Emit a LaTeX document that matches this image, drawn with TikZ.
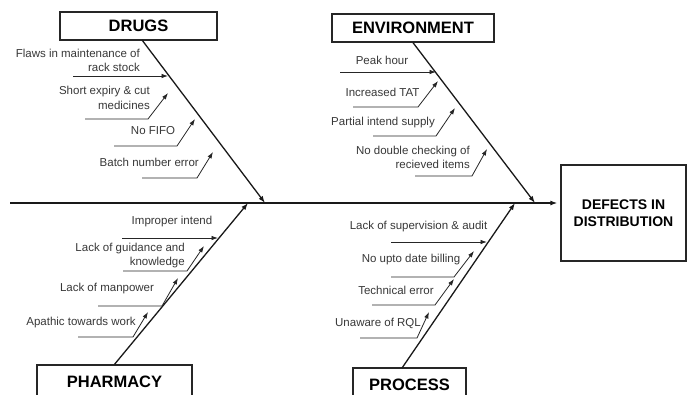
\documentclass[tikz,border=0pt]{standalone}
\usepackage{fontspec}
\setmainfont{Liberation Sans}
\usetikzlibrary{arrows.meta}
\begin{document}
\begin{tikzpicture}[x=1pt,y=-1pt,
  hdr/.style={draw=black!85, line width=1.3pt, inner sep=0pt, font=\fontsize{16.5}{19}\selectfont\bfseries},
  lbl/.style={font=\fontsize{11.5}{14.5}\selectfont, text=black!78, inner sep=0pt},
  cause/.style={draw=black!85, line width=0.8pt, -{Latex[length=6.5pt,width=4.5pt]}},
  spine/.style={draw=black!90, line width=1.3pt, -{Latex[length=7pt,width=5pt]}}]
\useasboundingbox (0,0) rectangle (687,394);
\clip (0,0) rectangle (687,394);
\fill[white] (0,0) rectangle (687,394);

% header boxes
\node[hdr, minimum width=157pt, minimum height=28pt] (drugs) at (138.5,26) {DRUGS};
\node[hdr, minimum width=162pt, minimum height=28pt] (env) at (413,28) {ENVIRONMENT};
\node[hdr, minimum width=155pt, minimum height=34pt] (pharm) at (114.5,382) {PHARMACY};
\node[hdr, minimum width=113pt, minimum height=34pt] (proc) at (409.5,385) {PROCESS};
\node[hdr, minimum width=125pt, minimum height=96pt, align=center,
      font=\fontsize{14}{17}\selectfont\bfseries] (defects) at (623.5,213) {DEFECTS IN\\DISTRIBUTION};

% spine end points
\coordinate (m0) at (10,203);
\coordinate (dtop) at (142,40);
\coordinate (dend) at (265,203);
\coordinate (eend) at (535,203);
\coordinate (pend) at (248,203);
\coordinate (rtop) at (402,368);
\coordinate (rend) at (515,203);

\draw[spine, shorten >=3pt] (m0) -- (defects.west |- m0);
\draw[spine] (dtop) -- (dend);
\draw[spine] (env.south) -- (eend);
\draw[spine] (pharm.north) -- (pend);
\draw[spine] (rtop) -- (rend);

% DRUGS causes
\node[lbl, anchor=east, align=right] (d1t) at (140,60.5) {Flaws in maintenance of\\rack stock};
\node[lbl, anchor=east, align=right] (d2t) at (150,98) {Short expiry \& cut\\medicines};
\node[lbl] (d3t) at (153,131) {No FIFO};
\node[lbl, anchor=east] (d4t) at (199,162) {Batch number error};
\coordinate (d1a) at (73,76);  \coordinate (d1b) at (168,76);
\coordinate (d2a) at (85,119); \coordinate (d2k) at (148,119); \coordinate (d2b) at (168,93);
\coordinate (d3a) at (114,146); \coordinate (d3k) at (177,146); \coordinate (d3b) at (195,119);
\coordinate (d4a) at (142,178); \coordinate (d4k) at (197,178); \coordinate (d4b) at (213,152);
\draw[cause] (d1a) -- (d1b);
\draw[cause] (d2a) -- (d2k) -- (d2b);
\draw[cause] (d3a) -- (d3k) -- (d3b);
\draw[cause] (d4a) -- (d4k) -- (d4b);

% ENVIRONMENT causes
\node[lbl] (e1t) at (382,60) {Peak hour};
\node[lbl] (e2t) at (382.5,92) {Increased TAT};
\node[lbl] (e3t) at (383,123) {Partial intend supply};
\node[lbl, anchor=east, align=right] (e4t) at (470,157.5) {No double checking of\\recieved items};
\coordinate (e1a) at (340,72);  \coordinate (e1b) at (436,72);
\coordinate (e2a) at (353,107); \coordinate (e2k) at (418,107); \coordinate (e2b) at (438,81);
\coordinate (e3a) at (373,136); \coordinate (e3k) at (436,136); \coordinate (e3b) at (455,108);
\coordinate (e4a) at (415,176); \coordinate (e4k) at (472,176); \coordinate (e4b) at (487,149);
\draw[cause] (e1a) -- (e1b);
\draw[cause] (e2a) -- (e2k) -- (e2b);
\draw[cause] (e3a) -- (e3k) -- (e3b);
\draw[cause] (e4a) -- (e4k) -- (e4b);

% PHARMACY causes
\node[lbl] (p1t) at (172,222) {Improper intend};
\node[lbl, anchor=east, align=right] (p2t) at (185,255.5) {Lack of guidance and\\knowledge};
\node[lbl] (p3t) at (107,289) {Lack of manpower};
\node[lbl] (p4t) at (81,323) {Apathic towards work};
\coordinate (p1a) at (122,238); \coordinate (p1b) at (218,238);
\coordinate (p2a) at (123,271); \coordinate (p2k) at (187,271); \coordinate (p2b) at (204,246);
\coordinate (p3a) at (98,306);  \coordinate (p3k) at (162,306); \coordinate (p3b) at (178,278);
\coordinate (p4a) at (78,337);  \coordinate (p4k) at (133,337); \coordinate (p4b) at (148,312);
\draw[cause] (p1a) -- (p1b);
\draw[cause] (p2a) -- (p2k) -- (p2b);
\draw[cause] (p3a) -- (p3k) -- (p3b);
\draw[cause] (p4a) -- (p4k) -- (p4b);

% PROCESS causes
\node[lbl] (r1t) at (418.5,227) {Lack of supervision \& audit};
\node[lbl] (r2t) at (411,260) {No upto date billing};
\node[lbl] (r3t) at (396,290) {Technical error};
\node[lbl] (r4t) at (378,323) {Unaware of RQL};
\coordinate (r1a) at (391,242); \coordinate (r1b) at (487,242);
\coordinate (r2a) at (391,277); \coordinate (r2k) at (454,277); \coordinate (r2b) at (474,251);
\coordinate (r3a) at (372,305); \coordinate (r3k) at (435,305); \coordinate (r3b) at (454,279);
\coordinate (r4a) at (360,338); \coordinate (r4k) at (417,338); \coordinate (r4b) at (429,312);
\draw[cause] (r1a) -- (r1b);
\draw[cause] (r2a) -- (r2k) -- (r2b);
\draw[cause] (r3a) -- (r3k) -- (r3b);
\draw[cause] (r4a) -- (r4k) -- (r4b);
\end{tikzpicture}
\end{document}
